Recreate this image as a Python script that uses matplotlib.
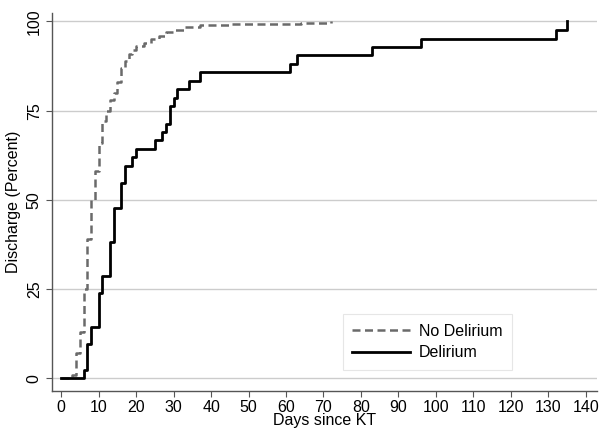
import matplotlib
matplotlib.use("Agg")
import matplotlib.pyplot as plt

plt.rcParams["font.family"] = ["Liberation Sans", "DejaVu Sans"]

# cumulative discharge, no delirium group (percent)
no_delirium_days = [0, 3, 4, 5, 6, 7, 8, 9, 10, 11, 12, 13, 14, 15, 16, 17, 18,
                    19, 20, 22, 24, 26, 28, 30, 33, 37, 45, 55, 64, 72]
no_delirium_pct = [0, 1, 7, 13, 25, 39, 50, 58, 66, 72, 75, 78, 80, 83, 87, 89, 91,
                   92, 93, 94, 95, 96, 97, 97.6, 98.4, 98.9, 99.2, 99.4, 99.6, 100]

# cumulative discharge, delirium group (percent)
delirium_days = [0, 6, 7, 8, 10, 11, 13, 14, 16, 17, 19, 20, 25, 27, 28, 29, 30,
                 31, 34, 37, 61, 63, 83, 96, 132, 135]
delirium_pct = [0, 2.4, 9.5, 14.3, 23.8, 28.6, 38.1, 47.6, 54.8, 59.5, 61.9, 64.3,
                66.7, 69.0, 71.4, 76.2, 78.6, 81.0, 83.3, 85.7, 88.1, 90.5, 92.9,
                95.2, 97.6, 100]

x_ticks = list(range(0, 141, 10))
y_ticks = [0, 25, 50, 75, 100]

fig = plt.figure(figsize=(6, 4.29), dpi=100)
ax = fig.add_axes([0.087, 0.088, 0.908, 0.882])

ax.step(no_delirium_days, no_delirium_pct, where="post", color="#6a6a6a",
        lw=1.8, dashes=(3.2, 1.8), label="No Delirium")
ax.step(delirium_days, delirium_pct, where="post", color="black",
        lw=2, label="Delirium")

ax.set_xlim(-2.4, 143)
ax.set_ylim(-3.6, 102.4)
ax.set_xticks(x_ticks)
ax.set_yticks(y_ticks)
ax.yaxis.grid(True, color="#cccccc", lw=1)
ax.set_axisbelow(True)

for side in ["top", "right"]:
    ax.spines[side].set_visible(False)
for side in ["left", "bottom"]:
    ax.spines[side].set_color("#555555")
    ax.spines[side].set_linewidth(1)

ax.tick_params(axis="both", labelsize=11.5, length=4, color="#555555")
ax.tick_params(axis="x", pad=2)
for lab in ax.get_yticklabels():
    lab.set_rotation(90)
    lab.set_va("center")

ax.set_xlabel("Days since KT", fontsize=11.5, labelpad=-1)
ax.set_ylabel("Discharge (Percent)", fontsize=11.5, labelpad=4)

leg = ax.legend(loc="lower left", bbox_to_anchor=(0.533, 0.057), borderaxespad=0,
                fontsize=11.5, frameon=True, fancybox=False, handlelength=3.6,
                handletextpad=0.6, borderpad=0.6, labelspacing=0.4)
leg.get_frame().set_edgecolor("#e0e0e0")
leg.get_frame().set_linewidth(0.8)

fig.savefig("out.png", dpi=100)
